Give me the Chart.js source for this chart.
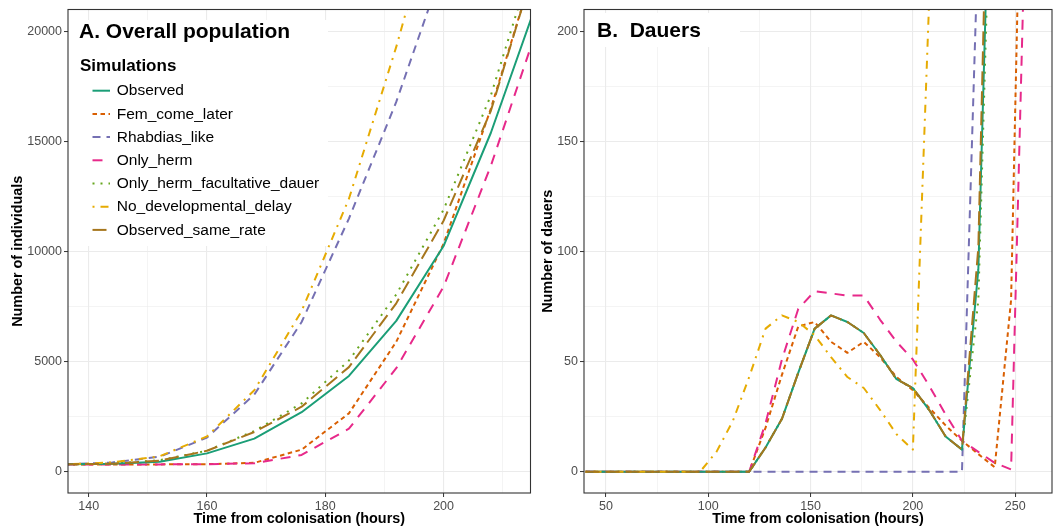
<!DOCTYPE html>
<html>
<head>
<meta charset="utf-8">
<script src="https://cdn.jsdelivr.net/npm/chart.js@4/dist/chart.umd.min.js"></script>
<style>
  body { margin: 0; background: #fff; width: 1055px; height: 530px; position: relative; overflow: hidden; }
  #wrapA { position: absolute; left: 0; top: 0; width: 532px; height: 530px; }
  #wrapB { position: absolute; left: 532px; top: 0; width: 523px; height: 530px; }
</style>
</head>
<body>
<div id="wrapA"><canvas id="chartA"></canvas></div>
<div id="wrapB"><canvas id="chartB"></canvas></div>
<script>
// data
const seriesNames = ['Observed', 'Fem_come_later', 'Rhabdias_like', 'Only_herm',
  'Only_herm_facultative_dauer', 'No_developmental_delay', 'Observed_same_rate'];

// A. overall population
const hoursA = [136, 144, 152, 160, 168, 176, 184, 192, 200, 208, 216];
const observedA = [330, 360, 450, 830, 1500, 2700, 4350, 6850, 10250, 15400, 21500];
const femLaterA = [330, 330, 330, 340, 400, 1000, 2650, 5900, 10350, 16500, 23500];
const rhabdiasA = [330, 420, 680, 1550, 3500, 6800, 11500, 16800, 23000, 30000, 38000];
const onlyHermA = [330, 330, 330, 340, 380, 760, 1950, 4700, 8400, 13900, 20300];
const facultativeA = [330, 360, 520, 950, 1850, 3100, 5050, 8050, 11900, 17100, 24000];
const noDelayA = [330, 420, 700, 1600, 3700, 7300, 12400, 19300, 27000, 35000, 44000];
const sameRateA = [330, 360, 500, 950, 1800, 2950, 4750, 7650, 11400, 16400, 23500];

// B. dauers
const hoursB = [40, 48, 56, 64, 72, 80, 88, 96, 104, 112, 120, 128, 136, 144, 152, 160, 168, 176,
  184, 192, 200, 208, 216, 224, 232, 240, 248, 256, 264];
const observedB = [0, 0, 0, 0, 0, 0, 0, 0, 0, 0, 0, 11, 24, 45, 65, 71, 68, 63, 53, 42, 38, 28, 16, 10,
  92, 360, 900, 1600, 2500];
const femLaterB = [0, 0, 0, 0, 0, 0, 0, 0, 0, 0, 0, 20, 44, 66, 68, 59, 54, 59, 52, 43, 37, 29, 21, 14,
  8, 2, 78, 420, 1200];
const rhabdiasB = [0, 0, 0, 0, 0, 0, 0, 0, 0, 0, 0, 0, 0, 0, 0, 0, 0, 0, 0, 0, 0, 0, 0, 0,
  245, 900, 1800, 3000, 4500];
const onlyHermB = [0, 0, 0, 0, 0, 0, 0, 0, 0, 0, 0, 22, 51, 74, 82, 81, 80, 80, 69, 59, 51, 39, 26, 14,
  9, 4, 1, 290, 900];
const facultativeB = [0, 0, 0, 0, 0, 0, 0, 0, 0, 0, 0, 11, 24, 45, 65, 71, 68, 63, 53, 42, 38, 28, 16, 10,
  78, 340, 850, 1500, 2400];
const noDelayB = [0, 0, 0, 0, 0, 0, 0, 0, 9, 23, 43, 65, 71, 68, 62, 52, 43, 38, 28, 17, 10, 215, 1500, 3000,
  4500, 6000, 8000, 10000, 12000];
const sameRateB = [0, 0, 0, 0, 0, 0, 0, 0, 0, 0, 0, 11, 24, 45, 65, 71, 68, 63, 53, 42, 38, 28, 16, 10,
  102, 420, 950, 1700, 2600];

// tick labels (major) and minor grid positions
const xMajorA = [140, 160, 180, 200];
const xMinorA = [150, 170, 190, 210];
const yMajorA = [0, 5000, 10000, 15000, 20000];
const yMinorA = [2500, 7500, 12500, 17500];
const xMajorB = [50, 100, 150, 200, 250];
const xMinorB = [75, 125, 175, 225];
const yMajorB = [0, 50, 100, 150, 200];
const yMinorB = [25, 75, 125, 175];

// styles
const seriesColors = ['#1B9E77', '#D95F02', '#7570B3', '#E7298A', '#66A61E', '#E6AB02', '#A6761D'];
const seriesDash = [[], [4.5, 3.5], [8, 6], [10, 8], [2, 6], [2, 6, 8, 6], [14, 6]];
// bigger order = drawn further below; the dotted green sits under the solid line
const seriesOrder = [3, 6, 5, 4, 8, 2, 1];
const fontFamily = "'Liberation Sans', Arial, Helvetica, sans-serif";

Chart.defaults.font.family = fontFamily;

function buildDatasets(hours, lists) {
  return seriesNames.map(function(name, i) {
    return {
      label: name,
      data: hours.map(function(h, j) { return { x: h, y: lists[i][j] }; }),
      borderColor: seriesColors[i],
      backgroundColor: seriesColors[i],
      borderDash: seriesDash[i],
      borderWidth: 2,
      borderCapStyle: 'butt',
      borderJoinStyle: 'round',
      pointRadius: 0,
      tension: 0,
      fill: false,
      clip: 0,
      order: seriesOrder[i]
    };
  });
}

function axis(min, max, majors, minors, titleText, isX, size, titlePad) {
  const all = majors.concat(minors).sort(function(a, b) { return a - b; });
  return {
    type: 'linear',
    min: min,
    max: max,
    afterBuildTicks: function(s) { s.ticks = all.map(function(v) { return { value: v }; }); },
    afterFit: function(s) { if (isX) { s.height = size; } else { s.width = size; } },
    ticks: {
      autoSkip: false,
      maxRotation: 0,
      padding: 2,
      color: '#4d4d4d',
      font: { size: 12.5 },
      callback: function(v) { return majors.includes(v) ? String(v) : ''; }
    },
    grid: {
      color: '#ebebeb',
      lineWidth: function(c) { return c.tick && majors.includes(c.tick.value) ? 1.1 : 0.55; },
      tickLength: 4,
      tickColor: function(c) { return c.tick && majors.includes(c.tick.value) ? '#333333' : 'rgba(0,0,0,0)'; },
      tickWidth: 1
    },
    border: { display: false },
    title: {
      display: true,
      text: titleText,
      color: '#000',
      font: { size: 14.4, weight: 'bold' },
      padding: titlePad
    }
  };
}

// panel border, white label boxes, panel titles and the legend
const panelDecor = {
  id: 'panelDecor',
  beforeDatasetsDraw: function(chart, args, opts) {
    const ctx = chart.ctx;
    ctx.save();
    ctx.fillStyle = '#ffffff';
    opts.boxes.forEach(function(b) { ctx.fillRect(b[0], b[1], b[2], b[3]); });
    ctx.restore();
  },
  afterDatasetsDraw: function(chart, args, opts) {
    const ctx = chart.ctx;
    const a = chart.chartArea;
    ctx.save();
    ctx.strokeStyle = '#333333';
    ctx.lineWidth = 1.1;
    ctx.setLineDash([]);
    ctx.strokeRect(a.left, a.top, a.right - a.left, a.bottom - a.top);

    ctx.fillStyle = '#000';
    ctx.textBaseline = 'middle';
    ctx.textAlign = 'left';
    ctx.font = 'bold 21px ' + fontFamily;
    ctx.fillText(opts.title, opts.titleX, opts.titleY);

    if (opts.legend) {
      ctx.font = 'bold 17px ' + fontFamily;
      ctx.fillText('Simulations', 80, 66);
      ctx.font = '15.5px ' + fontFamily;
      chart.data.datasets.forEach(function(ds, i) {
        const y = 90.7 + i * 23.2;
        ctx.beginPath();
        ctx.setLineDash(ds.borderDash);
        ctx.strokeStyle = ds.borderColor;
        ctx.lineWidth = 2;
        ctx.moveTo(92.5, y);
        ctx.lineTo(110, y);
        ctx.stroke();
        ctx.setLineDash([]);
        ctx.fillStyle = '#000';
        ctx.fillText(ds.label, 116.7, y + 0.5);
      });
    }
    ctx.restore();
  }
};

new Chart(document.getElementById('chartA'), {
  type: 'line',
  data: { datasets: buildDatasets(hoursA, [observedA, femLaterA, rhabdiasA, onlyHermA, facultativeA, noDelayA, sameRateA]) },
  options: {
    responsive: true,
    maintainAspectRatio: false,
    animation: false,
    devicePixelRatio: 1,
    layout: { padding: { top: 9, right: 1.5, left: 0, bottom: 0 } },
    scales: {
      x: axis(136.5, 214.7, xMajorA, xMinorA, 'Time from colonisation (hours)', true, 37, { top: 0, bottom: 2.4 }),
      y: axis(-970, 21000, yMajorA, yMinorA, 'Number of individuals', false, 68, { top: 9.5, bottom: 0 })
    },
    plugins: {
      legend: { display: false },
      tooltip: { enabled: false },
      panelDecor: {
        title: 'A. Overall population', titleX: 79, titleY: 32, legend: true,
        boxes: [[68.5, 20, 259.5, 226]]
      }
    }
  },
  plugins: [panelDecor]
});

new Chart(document.getElementById('chartB'), {
  type: 'line',
  data: { datasets: buildDatasets(hoursB, [observedB, femLaterB, rhabdiasB, onlyHermB, facultativeB, noDelayB, sameRateB]) },
  options: {
    responsive: true,
    maintainAspectRatio: false,
    animation: false,
    devicePixelRatio: 1,
    layout: { padding: { top: 9, right: 3, left: 0, bottom: 0 } },
    scales: {
      x: axis(39.25, 268, xMajorB, xMinorB, 'Time from colonisation (hours)', true, 37, { top: 0, bottom: 2.4 }),
      y: axis(-9.7, 210, yMajorB, yMinorB, 'Number of dauers', false, 52, { top: 7.4, bottom: 0 })
    },
    plugins: {
      legend: { display: false },
      tooltip: { enabled: false },
      panelDecor: {
        title: 'B.  Dauers', titleX: 65, titleY: 31.7, legend: false,
        boxes: [[52, 13, 156, 34]]
      }
    }
  },
  plugins: [panelDecor]
});
</script>
</body>
</html>
